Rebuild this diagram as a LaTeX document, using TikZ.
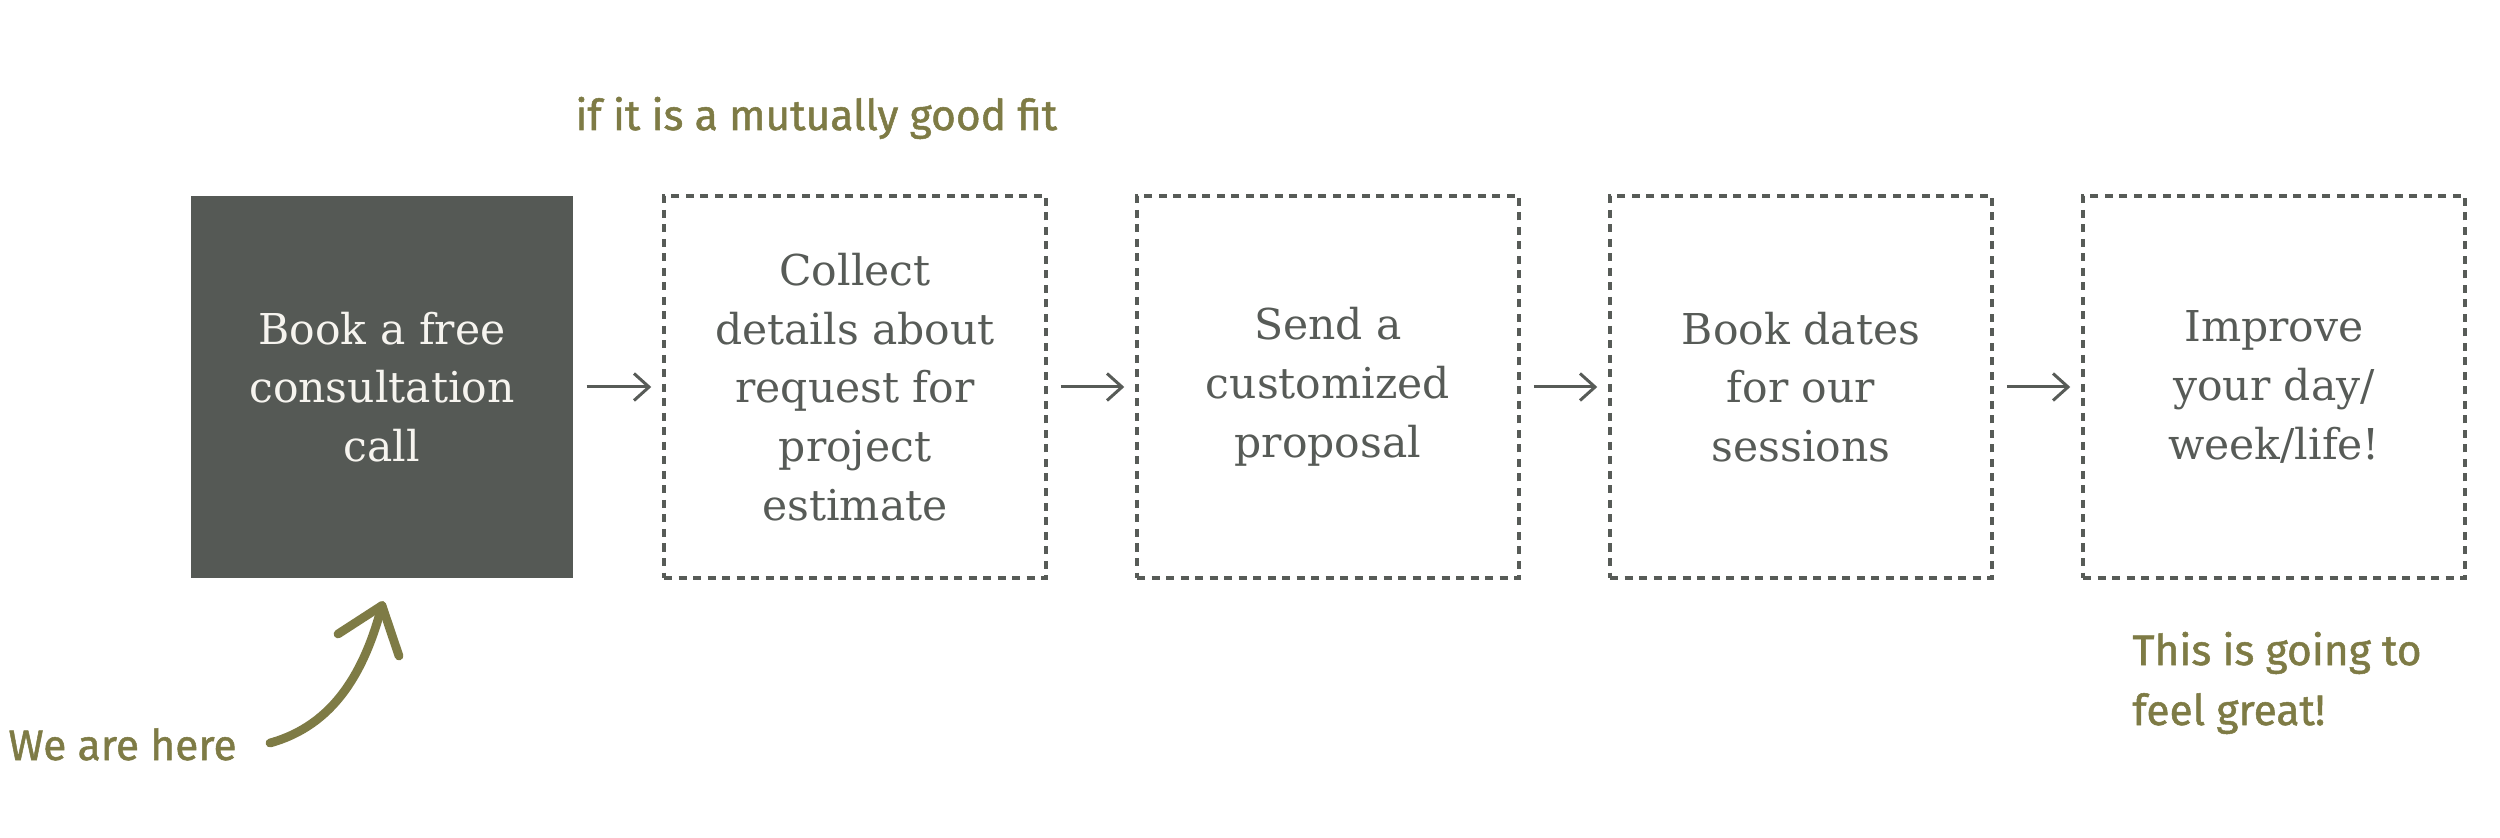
\documentclass[tikz,border=0pt]{standalone}
\usepackage{fontspec}
\setmainfont{DejaVu Serif}
\newfontfamily\handfont[FakeBold=1.2]{Fira Sans}
\usetikzlibrary{arrows.meta}
\definecolor{boxgray}{HTML}{555955}
\definecolor{txtgray}{HTML}{575B57}
\definecolor{olive}{HTML}{7E7B45}
\definecolor{paper}{HTML}{F6F4EF}
\tikzset{
  stepbox/.style={rectangle, minimum width=152.8pt, minimum height=152.8pt, align=center, inner sep=0pt,
    font=\fontsize{17pt}{23.5pt}\selectfont, text=txtgray},
  solidbox/.style={stepbox, fill=boxgray, text=paper},
  dashbox/.style={stepbox, draw=txtgray, line width=1.4pt, dash pattern=on 3.2pt off 2.6pt},
  flow/.style={draw=txtgray, line width=1.2pt, -{Straight Barb[length=6pt,width=10.8pt,line width=1.2pt]}},
  note/.style={text=olive, font=\handfont\fontsize{17pt}{24pt}\selectfont, inner sep=0pt, align=left},
  hand/.style={draw=olive, line width=3.5pt, line cap=round, line join=round}
}
\begin{document}
\begin{tikzpicture}[x=0.4pt, y=-0.4pt]
\useasboundingbox (0,0) rectangle (2500,838);
\node[solidbox] (b1) at (382,387) {Book a free\\consultation\\call};
\node[dashbox] (b2) at (855,387) {Collect\\details about\\request for\\project\\estimate};
\node[dashbox] (b3) at (1328,387) {Send a\\customized\\proposal};
\node[dashbox] (b4) at (1801,387) {Book dates\\for our\\sessions};
\node[dashbox] (b5) at (2274,387) {Improve\\your day/\\week/life!};
\draw[flow] ([xshift=5.2pt]b1.east) -- ([xshift=-4.4pt]b2.west);
\draw[flow] ([xshift=5.2pt]b2.east) -- ([xshift=-4.4pt]b3.west);
\draw[flow] ([xshift=5.2pt]b3.east) -- ([xshift=-4.4pt]b4.west);
\draw[flow] ([xshift=5.2pt]b4.east) -- ([xshift=-4.4pt]b5.west);
\node[note, anchor=base west] (t1) at (575,130) {if it is a mutually good fit};
\node[note, anchor=base west] (t2) at (8,760) {We are here};
\node[note, anchor=base west] (t3) at (2132,725) {This is going to\\feel great!};
\coordinate (tip) at ([yshift=-10.8pt]b1.south);
\draw[hand] (270,743) .. controls (335,725) and (365,670) .. (tip);
\draw[hand] (338,634) -- (tip) -- (399,656);
\end{tikzpicture}
\end{document}
